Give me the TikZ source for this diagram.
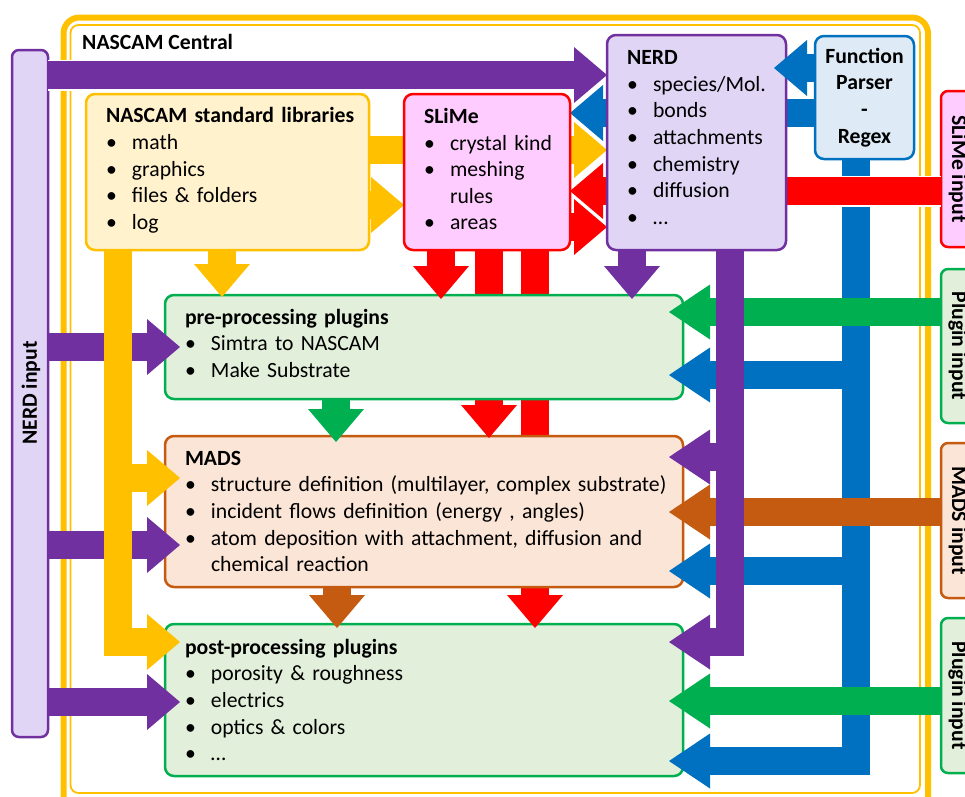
\documentclass[tikz,border=0pt]{standalone}
\usepackage{fontspec}
\setmainfont{Carlito}
\usetikzlibrary{arrows.meta,calc}

\pgfdeclarelayer{frame}
\pgfdeclarelayer{lpost}
\pgfdeclarelayer{lredc}
\pgfdeclarelayer{lmads}
\pgfdeclarelayer{lredb}
\pgfdeclarelayer{lpre}
\pgfdeclarelayer{lmid}
\pgfdeclarelayer{ltop}
\pgfsetlayers{frame,lpost,lredc,lmads,lredb,lpre,lmid,main,ltop}

\definecolor{cyel}{HTML}{FFC000}
\definecolor{cyelf}{HTML}{FFF2CC}
\definecolor{cred}{HTML}{FF0000}
\definecolor{cpink}{HTML}{FFCCFF}
\definecolor{cpur}{HTML}{7030A0}
\definecolor{cpurf}{HTML}{E1D5F5}
\definecolor{cblu}{HTML}{0070C0}
\definecolor{cbluf}{HTML}{DEEBF7}
\definecolor{cgrn}{HTML}{00B050}
\definecolor{cgrnf}{HTML}{E2EFDA}
\definecolor{corg}{HTML}{C55A11}
\definecolor{corgf}{HTML}{FBE5D6}

\newcommand\bodyfont{\fontsize{21.7pt}{26.6pt}\selectfont}
\newcommand\ttl[1]{\mbox{\textbf{#1}}}
\newcommand\itm[1]{\mbox{\makebox[26pt][l]{\textbullet}#1}}
\newcommand\cnt[1]{\mbox{\hspace*{26pt}#1}}
% extra depth under the last line, which lifts the text block inside its box
\newcommand\lift[1]{\rule[-#1pt]{0pt}{0pt}}

\tikzset{
  box/.style 2 args={draw=#1, fill=#2, line width=2.5pt, rounded corners=9pt,
    anchor=north west, inner xsep=20pt, inner ysep=0pt, outer sep=0pt,
    align=left, font=\bodyfont},
  inbox/.style 2 args={draw=#1, fill=#2, line width=2.5pt, rounded corners=7pt,
    anchor=north west, inner sep=0pt, outer sep=0pt},
  lbl/.style={font=\bodyfont\bfseries, inner sep=0pt},
  % block arrows: thick shaft with a triangular head
  blk/.style={line width=28pt, line cap=butt, line join=miter,
    -{Triangle[length=33pt,width=56pt,line width=0pt]}},
  blkr/.style={line width=28pt, line cap=butt, line join=miter,
    -{Triangle[length=41pt,width=55pt,line width=0pt]}},
  cased/.style={preaction={draw=white, line width=31pt, shorten >=-2.4pt,
    -{Triangle[length=37.4pt,width=60pt,line width=0pt]}}},
  poke/.style={shorten >=-#1pt},
}

\begin{document}
\begin{tikzpicture}[x=1pt,y=-1pt]
\useasboundingbox (0,0) rectangle (965,796);

% ---------------- NASCAM Central frame and input tabs ----------------
\begin{pgfonlayer}{frame}
  \node[draw=cyel, line width=6pt, rounded corners=16pt, anchor=north west,
        inner sep=0pt, outer sep=0pt, minimum width=864.5pt, minimum height=820pt]
        (central) at (63.5,17.5) {};
  \draw[cyel, line width=1.8pt, rounded corners=8pt] (70.5,25) rectangle (920,793);
  \node[lbl, anchor=west] (centraltitle) at (82,42) {NASCAM Central};

  \node[inbox={cpur}{cpurf}, minimum width=36pt, minimum height=687pt] (nerdin) at (12,50) {};
  \node[lbl, rotate=90] (nerdinlbl) at (31,393) {NERD input};

  \node[inbox={cred}{cpink}, minimum width=50pt, minimum height=156pt] (slimein) at (941,91) {};
  \node[lbl, rotate=-90] (slimeinlbl) at (958,169) {SLiMe input};
  \node[inbox={cgrn}{cgrnf}, minimum width=50pt, minimum height=154pt] (plugina) at (941,269) {};
  \node[lbl, rotate=-90] (pluginalbl) at (958,346) {Plugin input};
  \node[inbox={corg}{corgf}, minimum width=50pt, minimum height=155pt] (madsin) at (941,443) {};
  \node[lbl, rotate=-90] (madsinlbl) at (958,520.5) {MADS input};
  \node[inbox={cgrn}{cgrnf}, minimum width=50pt, minimum height=155pt] (pluginb) at (941,618) {};
  \node[lbl, rotate=-90] (pluginblbl) at (958,695.5) {Plugin input};
\end{pgfonlayer}

% ---------------- plugin / MADS stages ----------------
\begin{pgfonlayer}{lpost}
  \node[box={cgrn}{cgrnf}, minimum width=518pt, minimum height=152pt, text width=478pt]
    (post) at (165,624) {\ttl{post-processing plugins}\\
      \itm{porosity \& roughness}\\
      \itm{electrics}\\
      \itm{optics \& colors}\\
      \itm{…}};
\end{pgfonlayer}

\begin{pgfonlayer}{lmads}
  \node[box={corg}{corgf}, minimum width=518pt, minimum height=151pt, text width=478pt]
    (mads) at (165,436) {\ttl{MADS}\\
      \itm{structure definition (multilayer, complex substrate)}\\
      \itm{incident flows definition (energy , angles)}\\
      \itm{atom deposition with attachment, diffusion and}\\
      \cnt{chemical reaction}};
\end{pgfonlayer}

\begin{pgfonlayer}{lpre}
  \node[box={cgrn}{cgrnf}, minimum width=518pt, minimum height=104pt, text width=478pt]
    (pre) at (165,295) {\ttl{pre-processing plugins}\\
      \itm{Simtra to NASCAM}\\
      \itm{Make Substrate}\lift{8}};
\end{pgfonlayer}

% ---------------- libraries, SLiMe, NERD, parser ----------------
\node[box={cyel}{cyelf}, minimum width=283pt, minimum height=156pt, text width=243pt]
  (libs) at (86,94) {\ttl{NASCAM standard libraries}\\
    \itm{math}\\
    \itm{graphics}\\
    \itm{files \& folders}\\
    \itm{log}\lift{7}};
\node[box={cred}{cpink}, minimum width=166pt, minimum height=156pt, text width=126pt]
  (slime) at (404,94) {\ttl{SLiMe}\\
    \itm{crystal kind}\\
    \itm{meshing}\\
    \cnt{rules}\\
    \itm{areas}\lift{6}};
\node[box={cpur}{cpurf}, minimum width=179pt, minimum height=215pt, text width=139pt]
  (nerd) at (607,35) {\ttl{NERD}\\
    \itm{species/Mol.}\\
    \itm{bonds}\\
    \itm{attachments}\\
    \itm{chemistry}\\
    \itm{diffusion}\\
    \itm{…}\lift{10}};
\node[box={cblu}{cbluf}, minimum width=99pt, minimum height=123pt, text width=99pt,
      inner xsep=0pt, align=center, font=\bodyfont\bfseries]
  (fp) at (815,36) {Function\\Parser\\-\\Regex};

% ---------------- red links from SLiMe that pass behind the stages ----------------
\begin{pgfonlayer}{lredc}
  \draw[blk, cred, poke=4] (slime.south -| 535,0) -- (post.north -| 535,0);
\end{pgfonlayer}
\begin{pgfonlayer}{lredb}
  \draw[blk, cred, poke=2] (slime.south -| 489,0) -- (mads.north -| 489,0);
\end{pgfonlayer}

\begin{pgfonlayer}{lmid}
  % parser feed to the three stages
  \draw[blkr, cblu, poke=14] (fp.south -| 856,0) -- (856,761) -- (post.east |- 0,761);
  \draw[blkr, cblu, poke=14] (856,375) -- (pre.east |- 0,375);
  \draw[blkr, cblu, poke=14] (856,571) -- (mads.east |- 0,571);

  % external inputs on the right
  \draw[blkr, cgrn, poke=14] (plugina.west |- 0,312) -- (pre.east |- 0,312);
  \draw[blkr, corg, poke=14] (madsin.west |- 0,512) -- (mads.east |- 0,512);
  \draw[blkr, cgrn, poke=14] (pluginb.west |- 0,701) -- (post.east |- 0,701);

  % NERD feed to MADS and post-processing
  \draw[blkr, cpur, poke=14] (nerd.south -| 730,0) -- (730,642) -- (post.east |- 0,642);
  \draw[blkr, cpur, poke=14] (730,457) -- (mads.east |- 0,457);

  % NERD input on the left
  \draw[blk, cpur, poke=15] (nerdin.east |- 0,347) -- (pre.west |- 0,347);
  \draw[blk, cpur, poke=15] (nerdin.east |- 0,545) -- (mads.west |- 0,545);
  \draw[blk, cpur, poke=15] (nerdin.east |- 0,702) -- (post.west |- 0,702);

  % standard libraries to MADS and post-processing
  \draw[blk, cyel, poke=15] (libs.south -| 118,0) -- (118,642) -- (post.west |- 0,642);
  \draw[blk, cyel, poke=15] (118,478) -- (mads.west |- 0,478);

  % downward links
  \draw[blk, cyel, poke=2] (libs.south -| 222,0) -- (pre.north -| 222,0);
  \draw[blk, cred, poke=4] (slime.south -| 441,0) -- (pre.north -| 441,0);
  \draw[blk, cpur, poke=4] (nerd.south -| 632,0) -- (pre.north -| 632,0);
  \draw[blk, cgrn, poke=6] (pre.south -| 336,0) -- (mads.north -| 336,0);
  \draw[blk, corg, poke=4] (mads.south -| 337,0) -- (post.north -| 337,0);

  % links around SLiMe and NERD
  \draw[blk, cpur, cased] (nerdin.east |- 0,75) -- (nerd.west |- 0,75);
  \draw[blk, cblu, cased] (fp.west |- 0,113) -- (slime.east |- 0,113);
  \draw[blk, cyel, cased] (libs.east |- 0,150) -- (nerd.west |- 0,150);
  \draw[blk, cred, cased] (slimein.west |- 0,191) -- (slime.east |- 0,191);
  \draw[blk, cred, cased] (slime.east |- 0,227) -- (nerd.west |- 0,227);
  \draw[blk, cyel] (libs.east |- 0,205) -- (slime.west |- 0,205);
\end{pgfonlayer}

\begin{pgfonlayer}{ltop}
  \draw[blk, cblu, poke=12] (fp.west |- 0,68) -- (nerd.east |- 0,68);
\end{pgfonlayer}
\end{tikzpicture}
\end{document}
